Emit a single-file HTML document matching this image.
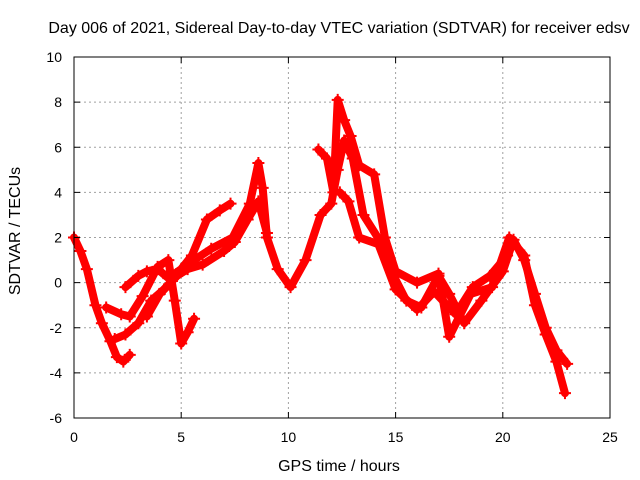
<!DOCTYPE html>
<html><head><meta charset="utf-8"><style>
body{margin:0;background:#fff}
svg{display:block;font-family:"Liberation Sans",sans-serif}
</style></head><body>
<svg id="chart" width="640" height="480">
<text x="339" y="33" text-anchor="middle" font-size="16">Day 006 of 2021, Sidereal Day-to-day VTEC variation (SDTVAR) for receiver edsv</text>
<text x="339" y="471" text-anchor="middle" font-size="16">GPS time / hours</text>
<text transform="translate(20,231) rotate(-90)" text-anchor="middle" font-size="16">SDTVAR / TECUs</text>
<g id="grid"></g><g id="series"></g><g id="axes"></g>
</svg>
<script>
const xTicks=[0,5,10,15,20,25];
const yTicks=[-6,-4,-2,0,2,4,6,8,10];
const track1Hours=[0,0.3,0.6,1,1.3,1.7,2,2.3,2.6];
const track1Values=[2,1.4,0.6,-1,-1.8,-2.6,-3.3,-3.5,-3.2];
const track2Hours=[1.5,2.2,2.6,3.2,3.9,4.4,4.7,5.0,5.3,5.6];
const track2Values=[-1.1,-1.4,-1.5,-0.6,0.7,1,-0.8,-2.7,-2.2,-1.6];
const track3Hours=[1.9,2.4,3,3.6,4.2,4.8,5.3,6,7,7.5,8.1,8.6,9];
const track3Values=[-2.5,-2.3,-1.8,-0.8,-0.3,0.3,0.6,0.8,1.4,1.8,2.8,3.6,2.2];
const track4Hours=[2.4,3,3.4,3.9,4.4,5,5.5,6.2,6.8,7.3];
const track4Values=[-0.2,0.3,0.5,0.6,0.2,0.6,1.2,2.8,3.2,3.5];
const track5Hours=[3.4,4,4.8,5.6,6.4,7.4,8.2,8.6,8.8,9,9.5,10.1,10.8,11.5,12,12.3,12.6,13,13.5,14.3,14.8,15.5,16.2,17,17.5,18.2,19,20,20.5,21,21.5,22,22.5,23];
const track5Values=[-1.5,-0.5,0.3,1,1.5,2,3.5,5.3,4.2,2,0.6,-0.2,1,3,3.5,5,6.3,5.5,3,1.8,0.5,-0.8,-1.1,0.3,-0.5,-1.8,-0.8,0.5,1.9,1,-0.5,-2,-3,-3.6];
const track6Hours=[11.4,11.8,12.1,12.3,12.6,12.9,13.3,14,14.5,15,16,17,17.5,18.5,19.5,20.3,21,21.5,22,22.5,22.9];
const track6Values=[5.9,5.5,4,8.1,7.2,6.5,5.2,4.8,2,0.5,0,0.4,-2.4,-0.5,-0.2,2,1.2,-1,-2.3,-3.5,-4.9];
const track7Hours=[12.4,12.8,13.3,14.2,15,16,16.8,17.8,18.6,19.4,20.2];
const track7Values=[4,3.6,2,1.7,-0.3,-1.2,-0.4,-1.4,-0.2,0.3,1.2];
const tracks=[[track1Hours,track1Values],[track2Hours,track2Values],[track3Hours,track3Values],[track4Hours,track4Values],[track5Hours,track5Values],[track6Hours,track6Values],[track7Hours,track7Values]];
const X0=74,X1=610,Y0=418,Y1=57;
function sx(t){return X0+(t-0)/(25-0)*(X1-X0);}
function sy(v){return Y0-(v+6)/(16)*(Y0-Y1);}
const NS="http://www.w3.org/2000/svg";
const grid=document.getElementById('grid'),axes=document.getElementById('axes'),ser=document.getElementById('series');
function mk(tag,attrs,parent){const e=document.createElementNS(NS,tag);for(const k in attrs)e.setAttribute(k,attrs[k]);parent.appendChild(e);return e;}
xTicks.forEach(t=>{
 const x=sx(t);
 if(t>0&&t<25){const g=mk('line',{x1:x,x2:x,y1:Y1,y2:Y0,stroke:'#a0a0a0','stroke-dasharray':'2,3'},grid);
 
 }
 mk('line',{x1:x,x2:x,y1:Y0,y2:Y0-6,stroke:'#000'},axes);
 mk('line',{x1:x,x2:x,y1:Y1,y2:Y1+6,stroke:'#000'},axes);
 const l=mk('text',{x:x,y:Y0+24,'text-anchor':'middle','font-size':'14'},axes);l.textContent=t;
 
 
});
yTicks.forEach(v=>{
 const y=sy(v);
 if(v>-6&&v<10){const g=mk('line',{x1:X0,x2:X1,y1:y,y2:y,stroke:'#a0a0a0','stroke-dasharray':'2,3'},grid);
 
 }
 mk('line',{x1:X0,x2:X0+6,y1:y,y2:y,stroke:'#000'},axes);
 mk('line',{x1:X1,x2:X1-6,y1:y,y2:y,stroke:'#000'},axes);
 const l=mk('text',{x:X0-12,y:y+5,'text-anchor':'end','font-size':'14'},axes);l.textContent=v;
 
 
});
const fr=mk('rect',{x:X0,y:Y1,width:X1-X0,height:Y0-Y1,fill:'none',stroke:'#000'},axes);


tracks.forEach(([h,v])=>{
 const pts=h.map((t,i)=>sx(t)+','+sy(v[i])).join(' ');
 const pl=mk('polyline',{points:pts,fill:'none',stroke:'#ff0000','stroke-width':8,'stroke-linejoin':'round','stroke-linecap':'round'},ser);
 
 
 h.forEach((t,i)=>{
  const x=sx(t),y=sy(v[i]);
  const p=mk('path',{d:`M${x-6},${y}h12M${x},${y-6}v12`,stroke:'#ff0000','stroke-width':2},ser);
  
  
 });
});
</script>
</body></html>
